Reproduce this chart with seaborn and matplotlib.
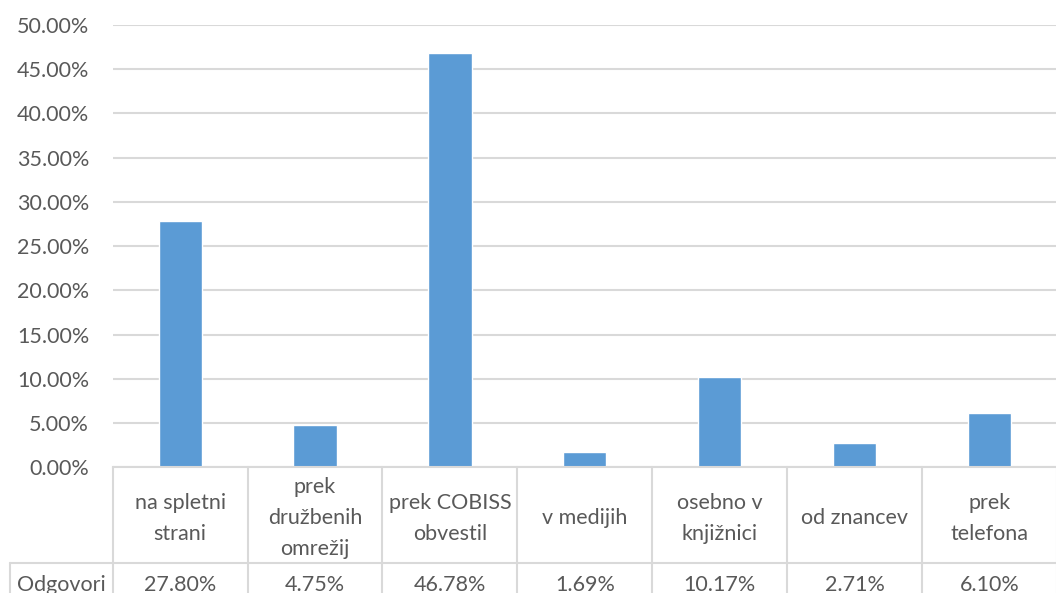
import matplotlib
matplotlib.use("Agg")
import matplotlib.pyplot as plt
import matplotlib.transforms as mtransforms
import seaborn as sns
import pandas as pd

categories = ["na spletni\nstrani", "prek\ndružbenih\nomrežij", "prek COBISS\nobvestil",
              "v medijih", "osebno v\nknjižnici", "od znancev", "prek\ntelefona"]
values = [27.80, 4.75, 46.78, 1.69, 10.17, 2.71, 6.10]
value_labels = ["27.80%", "4.75%", "46.78%", "1.69%", "10.17%", "2.71%", "6.10%"]
series_name = "Odgovori"
yticks = [0, 5, 10, 15, 20, 25, 30, 35, 40, 45, 50]

sns.set_theme(style="white")
plt.rcParams['font.family'] = ['Lato', 'DejaVu Sans']

W, Hfig = 1056, 593
fig = plt.figure(figsize=(W / 100, Hfig / 100), dpi=100)
ax_left, ax_right, ax_top, ax_bottom = 112.7, 1057.0, 25.0, 467.3
ax = fig.add_axes([ax_left / W, (Hfig - ax_bottom) / Hfig,
                   (ax_right - ax_left) / W, (ax_bottom - ax_top) / Hfig])
Hax = ax_bottom - ax_top
colw = (ax_right - ax_left) / 7

df = pd.DataFrame({"cat": [c.replace("\n", " ") for c in categories], "val": values})
sns.barplot(data=df, x="cat", y="val", color="#5b9bd5", saturation=1, width=0.32, ax=ax)

grid_c = "#d9d9d9"
text_c = "#595959"
fs = 15.5

ax.set_xlim(-0.5, 6.5)
ax.set_ylim(0, 50)
ax.set_yticks(yticks)
ax.set_yticklabels([f"{v:.2f}%" for v in yticks], color=text_c, fontsize=fs)
ax.set_xticks([])
ax.set_xlabel("")
ax.set_ylabel("")
ax.yaxis.grid(True, color=grid_c, lw=1.5)
ax.set_axisbelow(True)
for s in ["top", "right", "left"]:
    ax.spines[s].set_visible(False)
ax.spines["bottom"].set_color(grid_c)
ax.spines["bottom"].set_linewidth(1.5)
ax.tick_params(axis="y", length=0, pad=17)

def py(px_below):
    return -px_below / Hax

row1 = 563.3 - ax_bottom
row2_base = 591 - ax_bottom
left_x = -0.5 - (ax_left - 10) / colw
blend = mtransforms.blended_transform_factory(ax.transData, ax.transAxes)

for k in range(8):
    x = -0.5 + k
    ax.plot([x, x], [0, py(200)], transform=blend, color=grid_c, lw=1.5, clip_on=False)
ax.plot([left_x, 6.5], [py(row1), py(row1)], transform=blend, color=grid_c, lw=1.5, clip_on=False)
ax.plot([left_x, left_x], [py(row1), py(200)], transform=blend, color=grid_c, lw=1.5, clip_on=False)

for i, (c, lab) in enumerate(zip(categories, value_labels)):
    ax.text(i, py(row1 / 2 + 3), c, transform=blend, ha="center", va="center",
            color=text_c, fontsize=fs, linespacing=1.68, clip_on=False)
    ax.text(i, py(row2_base), lab, transform=blend, ha="center", va="baseline",
            color=text_c, fontsize=fs, clip_on=False)
ax.text((left_x - 0.5) / 2, py(row2_base), series_name, transform=blend, ha="center",
        va="baseline", color=text_c, fontsize=fs, clip_on=False)

fig.savefig("out.png", dpi=100)
